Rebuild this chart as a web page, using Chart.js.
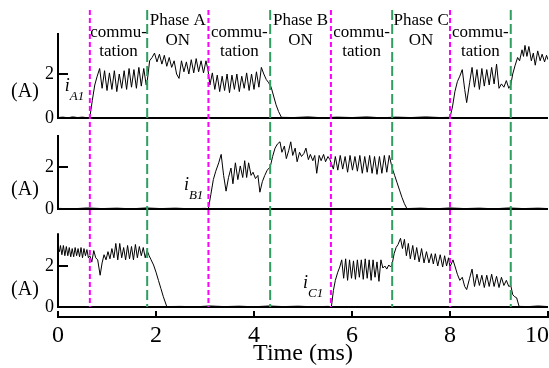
<!DOCTYPE html>
<html><head><meta charset="utf-8">
<script src="https://cdn.jsdelivr.net/npm/chart.js@4.4.0/dist/chart.umd.min.js"></script>
<style>html,body{margin:0;padding:0;background:#fff}canvas{display:block}</style>
</head><body>
<canvas id="c" width="549" height="368"></canvas>
<script>
// ---------- data (time in ms, current in A) ----------
const timeA = [0,0.1,0.2,0.3,0.4,0.5,0.6,0.65,
 0.70,0.75,0.80,0.85,0.90,0.95,1.00,1.05,1.10,1.15,1.20,1.25,1.30,1.35,1.40,1.45,1.50,1.55,1.60,1.65,1.70,1.75,1.80,1.82,
 1.87,1.92,1.97,2.02,2.07,2.12,2.17,2.22,2.27,2.32,2.37,2.42,2.47,2.52,2.57,2.62,2.67,2.72,2.77,2.82,2.87,2.92,2.97,3.02,3.06,
 3.10,3.15,3.20,3.25,3.30,3.35,3.40,3.45,3.50,3.55,3.60,3.65,3.70,3.75,3.80,3.85,3.90,3.95,4.00,4.05,4.10,4.15,4.20,4.25,4.30,4.35,4.40,4.45,4.50,4.56,
 4.8,5.1,5.4,5.7,6.0,6.3,6.6,6.9,7.2,7.5,7.8,8.0,
 8.05,8.10,8.15,8.20,8.25,8.30,8.34,8.40,8.45,8.50,8.55,8.60,8.65,8.70,8.75,8.80,8.85,8.90,8.95,9.00,9.05,9.10,9.15,9.20,9.24,
 9.28,9.33,9.38,9.42,9.47,9.50,9.53,9.57,9.61,9.66,9.70,9.74,9.79,9.84,9.88,9.93,9.97,10.0];
const currentA = [0.02,0.04,0.01,0.05,0.02,0.04,0.01,0.03,
 0.8,1.5,1.9,2.25,1.35,2.15,1.25,2.05,1.3,2.15,1.2,2.0,1.35,2.15,1.3,2.25,1.4,2.2,1.35,2.3,1.45,2.25,1.5,1.65,
 2.6,2.75,2.95,2.55,2.9,2.45,2.85,2.35,2.75,2.3,2.6,2.0,1.8,2.6,2.1,2.55,2.0,2.65,2.05,2.7,2.1,2.6,2.05,2.6,2.2,
 1.5,2.05,1.3,1.95,1.2,1.9,1.25,2.0,1.15,1.95,1.3,2.0,1.2,1.9,1.35,2.05,1.25,2.0,1.3,2.1,1.4,2.3,2.0,1.75,1.6,1.4,1.0,0.6,0.3,0.03,
 0.02,0.05,0.01,0.04,0.02,0.05,0.01,0.04,0.02,0.05,0.02,0.03,
 0.5,1.2,1.65,1.9,2.2,1.3,0.7,1.6,2.3,1.4,2.2,1.3,2.25,1.45,2.2,1.5,2.3,1.55,2.45,1.35,1.55,1.4,1.7,1.35,1.5,
 2.0,2.4,2.75,2.6,3.1,2.8,3.3,2.8,3.25,2.6,2.95,2.4,3.05,2.6,2.9,2.55,2.85,2.65];

const timeB = [0,0.3,0.6,0.9,1.2,1.5,1.8,2.1,2.4,2.7,3.0,3.07,
 3.12,3.17,3.22,3.28,3.33,3.38,3.43,3.48,3.53,3.57,3.62,3.67,3.72,3.77,3.81,3.85,3.89,3.94,3.98,4.03,4.08,4.12,4.17,4.22,4.27,4.33,
 4.38,4.43,4.48,4.53,4.57,4.62,4.66,4.71,4.75,4.79,4.84,4.88,4.93,4.97,5.02,5.06,5.11,5.15,5.20,5.24,5.28,5.33,5.37,5.42,5.46,5.51,5.55,
 5.62,5.66,5.71,5.76,5.81,5.86,5.91,5.96,6.01,6.06,6.11,6.16,6.21,6.26,6.31,6.36,6.41,6.46,6.51,6.56,6.61,6.66,6.71,6.76,6.82,
 6.87,6.92,6.97,7.02,7.07,7.12,
 7.4,7.7,8.0,8.3,8.6,8.9,9.2,9.5,9.8,10.0];
const currentB = [0.03,0.01,0.05,0.02,0.04,0.01,0.05,0.02,0.04,0.01,0.03,0.02,
 0.7,1.4,1.8,2.2,2.6,1.6,0.85,1.5,1.95,1.2,2.2,1.4,2.05,1.5,2.3,1.5,2.2,1.6,1.75,1.45,1.6,0.8,1.3,1.6,1.85,2.0,
 2.5,2.9,3.1,3.2,2.7,3.0,2.4,2.8,3.2,2.55,2.9,2.25,2.7,2.5,2.65,2.9,2.35,2.6,2.3,2.55,1.7,2.55,2.3,2.6,2.25,2.5,2.35,
 1.9,2.5,1.85,2.55,1.9,2.5,1.75,2.55,1.85,2.5,1.8,2.55,1.7,2.5,1.75,2.55,1.7,2.5,1.65,2.5,1.7,2.55,1.75,2.55,1.95,
 1.6,1.25,0.9,0.55,0.25,0.02,
 0.04,0.01,0.05,0.02,0.04,0.01,0.05,0.02,0.04,0.02];

const timeC = [0.00,0.03,0.05,0.08,0.11,0.14,0.17,0.20,0.23,0.26,0.29,0.32,0.35,0.38,0.41,0.44,0.47,0.50,0.53,0.56,0.59,0.62,0.65,
 0.69,0.73,0.77,0.81,0.86,0.90,0.94,0.98,1.02,1.06,1.10,1.14,1.18,1.22,1.26,1.30,1.34,1.38,1.42,1.46,1.50,1.54,1.58,1.62,1.66,1.70,1.74,1.78,1.82,1.86,
 1.90,1.95,2.00,2.05,2.10,2.15,2.22,
 2.5,2.8,3.1,3.4,3.7,4.0,4.3,4.6,4.9,5.2,5.5,5.58,
 5.62,5.66,5.71,5.75,5.79,5.83,5.87,5.91,5.95,5.99,6.03,6.07,6.11,6.15,6.19,6.23,6.27,6.31,6.35,6.39,6.43,6.47,6.51,6.55,6.59,6.63,6.67,6.71,6.75,6.79,6.82,
 6.86,6.90,6.94,6.99,7.03,7.07,7.11,7.15,7.19,7.24,7.28,7.32,7.37,7.42,7.47,7.52,7.57,7.62,7.66,7.70,7.75,7.80,7.85,7.89,7.93,7.97,8.00,
 8.06,8.10,8.15,8.20,8.25,8.30,8.34,8.40,8.45,8.50,8.55,8.60,8.65,8.70,8.75,8.80,8.85,8.90,8.95,9.00,9.05,9.10,9.15,9.20,9.24,9.28,9.32,9.36,9.41,
 9.6,9.8,10.0];
const currentC = [2.9,2.7,3.0,2.55,3.0,2.5,2.95,2.5,2.9,2.45,2.85,2.45,2.9,2.5,2.85,2.45,2.9,2.4,2.85,2.5,2.8,2.4,2.5,
 2.2,2.75,2.4,2.3,1.55,2.15,2.55,2.3,2.7,2.35,2.85,2.4,3.1,2.3,3.1,2.4,2.9,2.3,3.0,2.35,2.95,2.3,3.05,2.4,2.95,2.5,2.9,2.4,2.75,2.5,
 2.3,2.05,1.7,1.3,0.9,0.5,0.02,
 0.03,0.01,0.05,0.02,0.04,0.01,0.05,0.02,0.04,0.01,0.03,0.02,
 0.8,1.3,1.7,1.95,2.3,1.4,2.35,1.3,2.3,1.4,2.25,1.35,2.3,1.45,2.3,1.35,2.35,1.4,2.3,1.3,2.3,1.45,2.2,1.25,2.3,1.9,2.0,1.85,2.05,1.95,2.1,
 2.6,2.9,3.05,3.35,2.85,3.3,2.5,3.1,2.35,3.0,2.3,2.9,2.2,2.85,2.15,2.7,2.15,2.6,2.1,2.6,2.0,2.55,1.95,2.5,2.0,2.4,1.95,
 2.3,2.0,1.6,1.3,1.45,1.0,0.85,1.4,1.85,1.0,1.6,1.05,1.55,0.95,1.55,1.0,1.6,1.0,1.5,0.95,1.45,1.05,1.3,1.0,1.05,0.6,0.5,0.45,0.03,
 0.02,0.05,0.02];

const commutationStarts = [0.65, 3.07, 5.57, 8.0];   // magenta dashed lines
const commutationEnds   = [1.82, 4.33, 6.82, 9.24];  // green dashed lines
const phaseNames = ['Phase A', 'Phase B', 'Phase C'];
const xTickValues = [0, 2, 4, 6, 8, 10];
const yTickValues = [0, 2];
const seriesNames = [['i', 'A1'], ['i', 'B1'], ['i', 'C1']];
const unitLabel = '(A)';
const xTitle = 'Time (ms)';

// ---------- layout of the three stacked panels (top to bottom) ----------
const SERIF = '"Liberation Serif", "Times New Roman", serif';
const panels = [
  {id: 'y1', weight: 117, min: -0.409, max: 4.909, axisTop: 3.86, unitAt: 1.18, nameAt: [0.14, 1.23]},
  {id: 'y2', weight: 99,  min: -0.81,  max: 3.905, axisTop: 3.52, unitAt: 0.90, nameAt: [2.57, 0.90]},
  {id: 'y3', weight: 91,  min: -0.488, max: 3.951, axisTop: 3.60, unitAt: 0.83, nameAt: [5.00, 0.93]}
];
const seriesData = [[timeA, currentA], [timeB, currentB], [timeC, currentC]];

const scales = {
  x: {
    type: 'linear', position: 'bottom', min: 0, max: 10,
    afterBuildTicks: s => { s.ticks = xTickValues.map(v => ({value: v})); },
    afterFit: s => { s.height = 51; s.paddingLeft = 0; s.paddingRight = 0; },
    ticks: {display: false},
    grid: {display: true, drawOnChartArea: false, drawTicks: false},
    border: {display: true, color: '#000', width: 2},
    title: {display: true, text: xTitle, color: '#000', font: {family: SERIF, size: 24}, padding: {top: 0, bottom: 0}}
  }
};
// stacked scales are placed bottom-first, so declare the bottom panel first
panels.slice().reverse().forEach(p => {
  scales[p.id] = {
    type: 'linear', position: 'left', stack: 'panels', stackWeight: p.weight,
    min: p.min, max: p.max,
    afterBuildTicks: s => { s.ticks = yTickValues.map(v => ({value: v})); },
    afterFit: s => { s.width = 58; s.paddingTop = 0; s.paddingBottom = 0; },
    ticks: {color: '#000', font: {family: SERIF, size: 18}, padding: 4},
    grid: {drawTicks: false, lineWidth: 2,
           color: c => (c.tick && c.tick.value === 0) ? '#000' : 'rgba(0,0,0,0)'},
    border: {display: false}
  };
});

const datasets = seriesData.map((sd, k) => ({
  data: sd[0].map((t, j) => ({x: t, y: sd[1][j]})),
  yAxisID: panels[k].id,
  borderColor: '#000', borderWidth: 1, pointRadius: 0, tension: 0, fill: false
}));

const overlay = {
  id: 'overlay',
  afterDatasetsDraw(chart) {
    const {ctx, chartArea: a} = chart;
    const sx = chart.scales.x;
    ctx.save();
    ctx.fillStyle = '#000';
    ctx.strokeStyle = '#000';
    panels.forEach((p, k) => {
      const s = chart.scales[p.id];
      ctx.lineWidth = 2; ctx.setLineDash([]);
      ctx.beginPath();
      ctx.moveTo(a.left, s.getPixelForValue(p.axisTop));
      ctx.lineTo(a.left, s.getPixelForValue(0) + 1);
      ctx.stroke();
      yTickValues.filter(v => v !== 0).forEach(v => {
        const py = s.getPixelForValue(v);
        ctx.beginPath(); ctx.moveTo(a.left, py); ctx.lineTo(a.left + 10, py); ctx.stroke();
      });
      ctx.font = '20px ' + SERIF; ctx.textAlign = 'center'; ctx.textBaseline = 'middle';
      ctx.fillText(unitLabel, 25, s.getPixelForValue(p.unitAt));
      const nx = sx.getPixelForValue(p.nameAt[0]), ny = s.getPixelForValue(p.nameAt[1]);
      ctx.textAlign = 'left'; ctx.textBaseline = 'alphabetic';
      ctx.font = 'italic 18px ' + SERIF;
      ctx.fillText(seriesNames[k][0], nx, ny);
      const w = ctx.measureText(seriesNames[k][0]).width;
      ctx.font = 'italic 13px ' + SERIF;
      ctx.fillText(seriesNames[k][1], nx + w, ny + 9);
    });
    ctx.lineWidth = 2;
    xTickValues.forEach((v, i) => {
      const px = sx.getPixelForValue(v);
      ctx.beginPath(); ctx.moveTo(px, a.bottom + 1); ctx.lineTo(px, a.bottom - 6); ctx.stroke();
      ctx.font = '24px ' + SERIF; ctx.textBaseline = 'alphabetic';
      if (i === xTickValues.length - 1) { ctx.textAlign = 'right'; ctx.fillText(String(v), chart.width, a.bottom + 25); }
      else { ctx.textAlign = 'center'; ctx.fillText(String(v), px, a.bottom + 25); }
    });
    const bottomY = chart.scales.y3.getPixelForValue(0);
    const drawDash = (t, color, dash) => {
      const px = sx.getPixelForValue(t);
      ctx.strokeStyle = color; ctx.lineWidth = 2; ctx.setLineDash(dash);
      ctx.beginPath(); ctx.moveTo(px, a.top); ctx.lineTo(px, bottomY); ctx.stroke();
    };
    commutationStarts.forEach(t => drawDash(t, '#ff00ff', [5, 3]));
    commutationEnds.forEach(t => drawDash(t, '#2f9e5f', [10, 4]));
    ctx.setLineDash([]);
    ctx.fillStyle = '#000';
    ctx.font = '17px ' + SERIF; ctx.textAlign = 'center'; ctx.textBaseline = 'alphabetic';
    commutationStarts.forEach((t, i) => {
      const cx = sx.getPixelForValue((t + commutationEnds[i]) / 2);
      ctx.fillText('commu-', cx, a.top + 27);
      ctx.fillText('tation', cx, a.top + 46);
    });
    phaseNames.forEach((name, i) => {
      const cx = sx.getPixelForValue((commutationEnds[i] + commutationStarts[i + 1]) / 2);
      ctx.fillText(name, cx, a.top + 15);
      ctx.fillText('ON', cx, a.top + 35);
    });
    ctx.restore();
  }
};

new Chart(document.getElementById('c'), {
  type: 'line',
  data: {datasets},
  options: {
    responsive: false, devicePixelRatio: 1, animation: false,
    layout: {padding: {top: 10, right: 1, left: 0, bottom: 0}},
    plugins: {legend: {display: false}, tooltip: {enabled: false}},
    scales
  },
  plugins: [overlay]
});
</script>
</body></html>
